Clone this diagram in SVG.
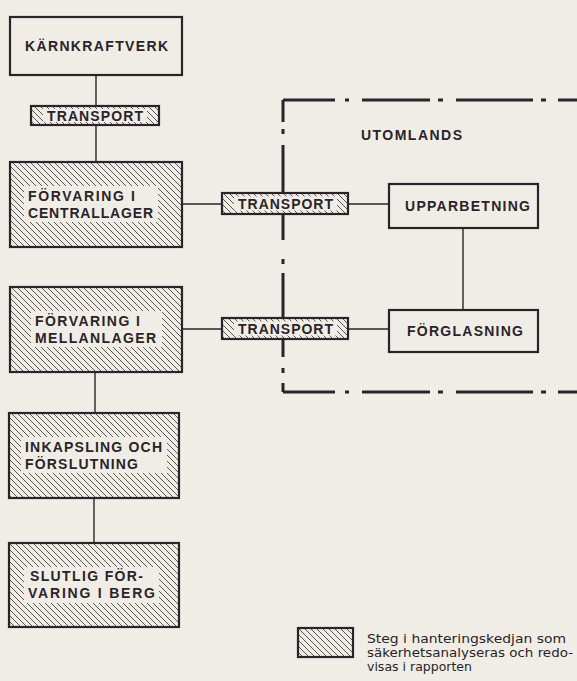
<svg xmlns="http://www.w3.org/2000/svg" width="577" height="681" viewBox="0 0 577 681">
  <style>
    .bg { fill: #f0ede6; }
    .box { fill: #f0ede6; stroke: #2b2329; stroke-width: 2.2; }
    .hbox { fill: url(#hatch); stroke: #2b2329; stroke-width: 2.2; }
    .clear { fill: #f0ede6; stroke: none; }
    .conn { stroke: #2b2329; stroke-width: 1.4; fill: none; }
    .bound { stroke: #2b2329; stroke-width: 3; fill: none; }
    .t { font-family: "Liberation Sans", Arial, sans-serif; font-size: 14px; font-weight: bold; fill: #2b2329; }
    .leg { font-family: "DejaVu Sans", "Liberation Sans", sans-serif; font-size: 12.3px; fill: #2b2329; }
  </style>
  <defs>
    <pattern id="hatch" patternUnits="userSpaceOnUse" width="6" height="6">
      <rect width="6" height="6" fill="#f0ede6"/>
      <path d="M0,0 L6,6 M-1,5 L1,7 M5,-1 L7,1" stroke="#4a4248" stroke-width="0.9"/>
    </pattern>
  </defs>
  <rect class="bg" x="0" y="0" width="577" height="681"/>

  <g id="boundary">
    <path class="bound" d="M283,100 H335 M345,100 H349 M362,100 H430 M438,100 H443 M456,100 H533 M541,100 H546 M558,100 H577"/>
    <path class="bound" d="M283,100 V122 M283,129 V134 M283,145 V240 M283,259 V264 M283,273 V357 M283,368 V373 M283,383 V392"/>
    <path class="bound" d="M283,392 H335 M345,392 H349 M362,392 H430 M438,392 H443 M456,392 H533 M541,392 H546 M558,392 H577"/>
  </g>

  <g id="connectors">
    <line class="conn" x1="96" y1="75" x2="96" y2="106"/>
    <line class="conn" x1="96" y1="125" x2="96" y2="162"/>
    <line class="conn" x1="182" y1="204" x2="222" y2="204"/>
    <line class="conn" x1="348" y1="204" x2="389" y2="204"/>
    <line class="conn" x1="463" y1="228" x2="463" y2="310"/>
    <line class="conn" x1="182" y1="329" x2="222" y2="329"/>
    <line class="conn" x1="348" y1="329" x2="389" y2="329"/>
    <line class="conn" x1="95" y1="372" x2="95" y2="413"/>
    <line class="conn" x1="94" y1="498" x2="94" y2="543"/>
  </g>

  <g id="karnkraftverk">
    <rect class="box" x="10" y="17" width="172" height="58"/>
    <text class="t" x="25" y="51" textLength="143" lengthAdjust="spacing">KÄRNKRAFTVERK</text>
  </g>

  <g id="transport1">
    <rect class="hbox" x="31" y="106" width="128" height="19"/>
    <rect class="clear" x="43" y="109" width="104" height="13"/>
    <text class="t" x="47" y="120.5" textLength="96" lengthAdjust="spacing">TRANSPORT</text>
  </g>

  <g id="centrallager">
    <rect class="hbox" x="10" y="162" width="172" height="85"/>
    <rect class="clear" x="24" y="186" width="134" height="36"/>
    <text class="t" x="28" y="200.5" textLength="107" lengthAdjust="spacing">FÖRVARING I</text>
    <text class="t" x="28" y="217.5" textLength="125" lengthAdjust="spacing">CENTRALLAGER</text>
  </g>

  <g id="transport2">
    <rect class="hbox" x="222" y="193" width="126" height="21"/>
    <rect class="clear" x="234" y="196.5" width="103" height="14"/>
    <text class="t" x="238" y="208.8" textLength="95" lengthAdjust="spacing">TRANSPORT</text>
  </g>

  <g id="utomlands">
    <text class="t" x="361" y="140" textLength="101" lengthAdjust="spacing">UTOMLANDS</text>
  </g>

  <g id="upparbetning">
    <rect class="box" x="389" y="184" width="149" height="44"/>
    <text class="t" x="405" y="211" textLength="125" lengthAdjust="spacing">UPPARBETNING</text>
  </g>

  <g id="mellanlager">
    <rect class="hbox" x="10" y="287" width="172" height="85"/>
    <rect class="clear" x="31" y="311" width="131" height="36"/>
    <text class="t" x="35" y="325.5" textLength="105" lengthAdjust="spacing">FÖRVARING I</text>
    <text class="t" x="35" y="342.5" textLength="121" lengthAdjust="spacing">MELLANLAGER</text>
  </g>

  <g id="transport3">
    <rect class="hbox" x="222" y="318" width="126" height="21"/>
    <rect class="clear" x="234" y="321.5" width="103" height="14"/>
    <text class="t" x="238" y="333.8" textLength="95" lengthAdjust="spacing">TRANSPORT</text>
  </g>

  <g id="forglasning">
    <rect class="box" x="389" y="310" width="149" height="42"/>
    <text class="t" x="407" y="336" textLength="116" lengthAdjust="spacing">FÖRGLASNING</text>
  </g>

  <g id="inkapsling">
    <rect class="hbox" x="9" y="413" width="170" height="85"/>
    <rect class="clear" x="21" y="437" width="146" height="36"/>
    <text class="t" x="25" y="451.5" textLength="137" lengthAdjust="spacing">INKAPSLING OCH</text>
    <text class="t" x="25" y="468.5" textLength="113" lengthAdjust="spacing">FÖRSLUTNING</text>
  </g>

  <g id="slutlig">
    <rect class="hbox" x="9" y="543" width="170" height="84"/>
    <rect class="clear" x="24" y="567" width="135" height="36"/>
    <text class="t" x="30" y="581" textLength="113" lengthAdjust="spacing">SLUTLIG FÖR-</text>
    <text class="t" x="28" y="598" textLength="127" lengthAdjust="spacing">VARING I BERG</text>
  </g>

  <g id="legend">
    <rect class="hbox" x="298" y="628" width="55" height="29"/>
    <text class="leg" x="367" y="643" textLength="199" lengthAdjust="spacingAndGlyphs">Steg i hanteringskedjan som</text>
    <text class="leg" x="367" y="657" textLength="206" lengthAdjust="spacingAndGlyphs">säkerhetsanalyseras och redo-</text>
    <text class="leg" x="367" y="671" textLength="105" lengthAdjust="spacingAndGlyphs">visas i rapporten</text>
  </g>
</svg>
